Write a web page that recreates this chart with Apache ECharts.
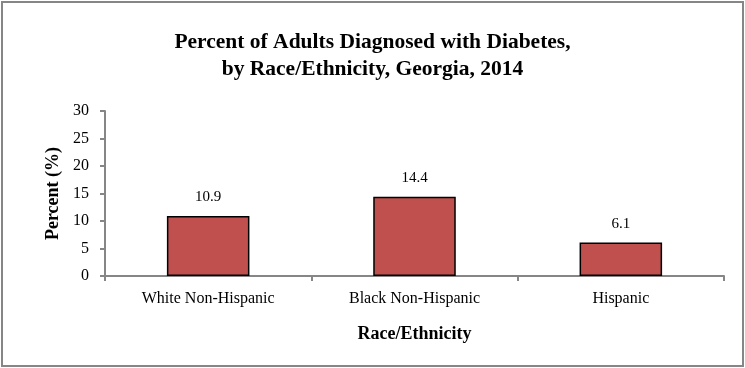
<!DOCTYPE html>
<html>
<head>
<meta charset="utf-8">
<script src="https://cdn.jsdelivr.net/npm/echarts@6/dist/echarts.min.js"></script>
<style>
  html, body { margin: 0; padding: 0; background: #fff; }
  #myChart { width: 745px; height: 368px; }
</style>
</head>
<body>
<div id="myChart"></div>
<script>
// 数据
const categories = ['White Non-Hispanic', 'Black Non-Hispanic', 'Hispanic'];
const percentValues = [10.9, 14.4, 6.1];
const yTicks = [0, 5, 10, 15, 20, 25, 30];

const serif = '"Liberation Serif", "DejaVu Serif", serif';
let myChart = echarts.init(document.getElementById('myChart'));
let option = {
  animation: false,
  title: {
    text: 'Percent of Adults Diagnosed with Diabetes,\nby Race/Ethnicity, Georgia, 2014',
    left: 'center',
    top: 24,
    textStyle: {
      fontFamily: serif,
      fontWeight: 'bold',
      fontSize: 21.5,
      lineHeight: 27,
      color: '#000'
    }
  },
  graphic: [{
    type: 'rect',
    shape: { x: 2, y: 2, width: 741, height: 364 },
    style: { fill: 'none', stroke: '#868686', lineWidth: 2 }
  }],
  grid: {
    left: 105,
    right: 21,
    top: 111,
    bottom: 92
  },
  xAxis: {
    type: 'category',
    data: categories,
    name: 'Race/Ethnicity',
    nameLocation: 'middle',
    nameGap: 49,
    nameTextStyle: { fontFamily: serif, fontWeight: 'bold', fontSize: 18, color: '#000' },
    axisLine: { lineStyle: { color: '#868686', width: 2 } },
    axisTick: { show: true, alignWithLabel: false, length: 5, lineStyle: { color: '#868686', width: 2 } },
    axisLabel: { fontFamily: serif, fontSize: 16, color: '#000', margin: 15 }
  },
  yAxis: {
    type: 'value',
    min: yTicks[0],
    max: yTicks[yTicks.length - 1],
    interval: 5,
    name: 'Percent (%)',
    nameLocation: 'middle',
    nameGap: 43,
    nameTextStyle: { fontFamily: serif, fontWeight: 'bold', fontSize: 18, color: '#000' },
    axisLine: { show: true, lineStyle: { color: '#868686', width: 2 } },
    axisTick: { show: true, length: 5, lineStyle: { color: '#868686', width: 2 } },
    axisLabel: { fontFamily: serif, fontSize: 16, color: '#000', margin: 16 },
    splitLine: { show: false }
  },
  series: [{
    type: 'bar',
    data: percentValues,
    barWidth: '40%',
    itemStyle: { color: '#C0504D', borderColor: '#000', borderWidth: 1.5 },
    label: {
      show: true,
      position: 'top',
      distance: 11,
      fontFamily: serif,
      fontSize: 15,
      color: '#000',
      formatter: p => p.value.toFixed(1)
    }
  }]
};
myChart.setOption(option);
</script>
</body>
</html>
